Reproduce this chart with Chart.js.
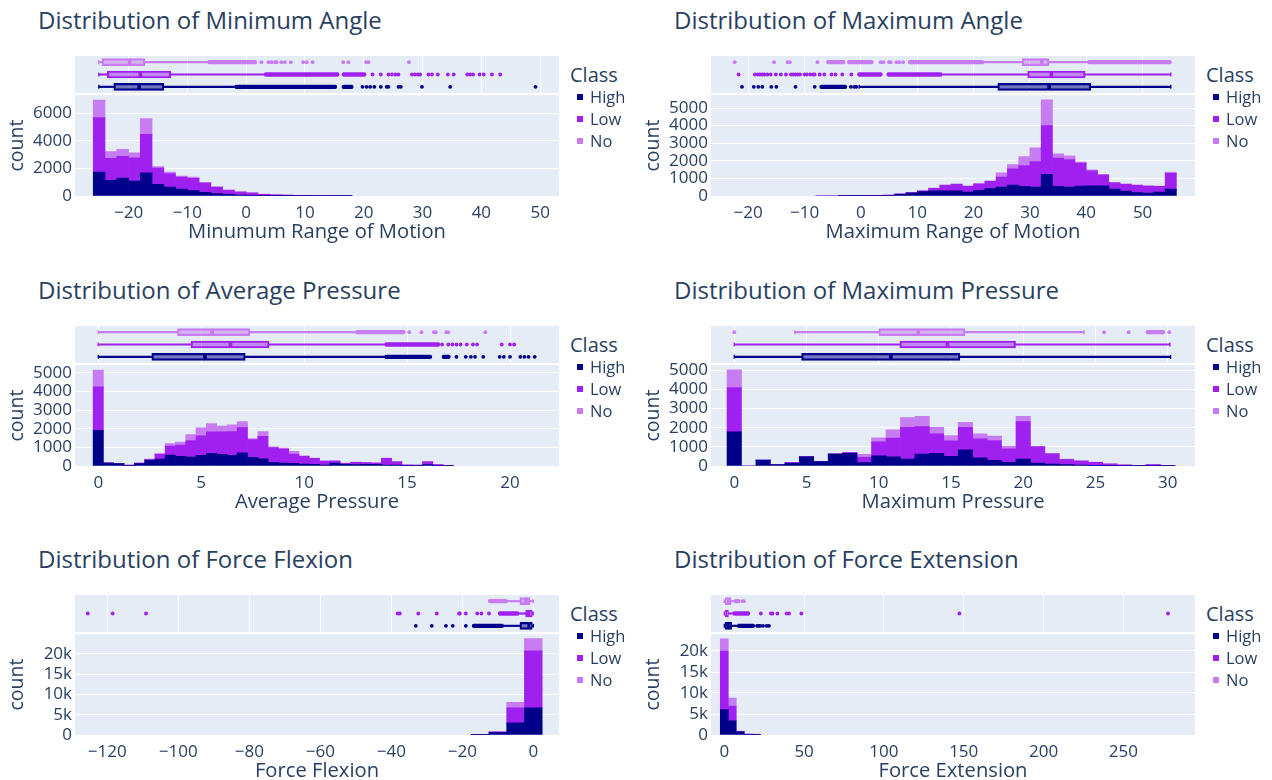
<!DOCTYPE html>
<html>
<head>
<meta charset="utf-8">
<script src="https://cdn.jsdelivr.net/npm/chart.js@4.4.1/dist/chart.umd.min.js"></script>
<style>
  html, body { margin: 0; padding: 0; background: #fff; }
  body { width: 1272px; height: 780px; position: relative; overflow: hidden;
         font-family: "Open Sans", verdana, arial, sans-serif; color: #2a3f5f; }
  canvas { position: absolute; }
  .txt { position: absolute; white-space: nowrap; color: #2a3f5f; }
  .sw { position: absolute; width: 6px; height: 6px; }
</style>
</head>
<body>
<script>
// ---------------- data ----------------
const CLASSES = ['High', 'Low', 'No'];

// Minimum angle: stacked counts per 2-degree bin (bin centres)
const minAngleBins = [-25, -23, -21, -19, -17, -15, -13, -11, -9, -7, -5, -3, -1, 1, 3, 5, 7, 9, 11, 13, 15, 17];
const minAngleHigh = [1725, 1125, 1293, 1078, 1677, 838, 647, 503, 383, 263, 168, 120, 72, 48, 24, 15, 10, 6, 4, 3, 2, 3];
const minAngleLow  = [3952, 1605, 1581, 1676, 2778, 1174, 982, 862, 887, 671, 479, 287, 215, 167, 96, 65, 50, 34, 21, 12, 4, 3];
const minAngleNo   = [1269, 480, 503, 360, 1150, 120, 96, 72, 95, 48, 23, 48, 24, 25, 24, 16, 12, 8, 5, 5, 14, 8];
// box stats: [lower whisker, q1, median, q3, upper whisker]
const minAngleBoxes = { High: [-25.05, -22.5, -18.2, -14.0, -1.8], Low: [-25.05, -23.6, -18.0, -12.8, 3.2], No: [-25.05, -24.5, -19.8, -17.2, -6.4] };
const minAngleRuns = { High: [[-1.8, 15.4], [16.3, 18.2]], Low: [[3.2, 15.8], [16.3, 20.4]], No: [[-6.4, 1.8]] };
const minAngleOutliers = {
  High: [19.8, 20.5, 21.1, 21.8, 22.9, 23.9, 24.2, 25.9, 26.3, 29.9, 34.7, 49.2],
  Low: [21.5, 22.9, 24.2, 24.8, 25.4, 25.9, 28.2, 28.7, 29.2, 29.6, 31.0, 31.6, 32.6, 34.3, 35.3, 37.6, 38.1, 38.6, 39.7, 40.4, 41.8, 43.2],
  No: [2.6, 3.8, 4.3, 4.9, 5.2, 6.0, 6.6, 7.6, 9.7, 10.3, 11.3, 16.5, 17.4, 20.4, 20.8, 27.7]
};
const minAngleXTicks = [-20, -10, 0, 10, 20, 30, 40, 50];
const minAngleYTicks = [0, 2000, 4000, 6000];

// Maximum angle
const maxAngleBins = [-7, -5, -3, -1, 1, 3, 5, 7, 9, 11, 13, 15, 17, 19, 21, 23, 25, 27, 29, 31, 33, 35, 37, 39, 41, 43, 45, 47, 49, 51, 53, 55];
const maxAngleHigh = [0, 0, 5, 15, 10, 20, 40, 95, 170, 245, 300, 300, 300, 226, 320, 415, 509, 623, 547, 509, 1226, 547, 509, 566, 585, 585, 396, 283, 189, 170, 226, 396];
const maxAngleLow  = [0, 0, 5, 10, 10, 15, 12, 30, 33, 50, 134, 304, 360, 321, 360, 415, 566, 924, 1189, 1453, 2774, 1604, 1566, 1302, 849, 604, 359, 377, 415, 396, 321, 887];
const maxAngleNo   = [30, 30, 25, 15, 25, 8, 5, 5, 5, 5, 19, 36, 38, 38, 37, 38, 245, 245, 509, 774, 1472, 245, 208, 57, 56, 37, 19, 38, 36, 19, 19, 75];
const maxAngleBoxes = { High: [-0.3, 24.3, 33.4, 40.8, 55.0], Low: [14.3, 29.6, 33.8, 39.8, 55.0], No: [21.7, 28.6, 32.1, 33.4, 40.4] };
const maxAngleRuns = { High: [[-7.3, -2.5]], Low: [[-0.6, 3.8], [4.6, 14.3]], No: [[-6.1, -2.8], [-2.4, 2.2], [8.4, 21.7], [40.4, 55.1]] };
const maxAngleOutliers = {
  High: [-21.1, -19.0, -18.2, -17.5, -15.9, -15.0, -11.6, -8.2, -1.8, -1.2, -0.8],
  Low: [-21.7, -18.8, -18.3, -17.9, -17.5, -17.1, -16.6, -16.0, -15.1, -14.2, -13.3, -12.4, -12.0, -11.6, -11.2, -10.8, -10.0, -9.6, -9.0, -8.5, -8.2, -7.3, -6.5, -5.2, -4.5, -3.3, -1.7],
  No: [-22.4, -15.4, -13.0, -12.6, -7.7, 3.5, 4.0, 5.0, 5.3, 6.3, 6.8, 7.5]
};
const maxAngleXTicks = [-20, -10, 0, 10, 20, 30, 40, 50];
const maxAngleYTicks = [0, 1000, 2000, 3000, 4000, 5000];

// Average pressure (0.5-wide bins)
const avgPressureBins = [0, 0.5, 1, 1.5, 2, 2.5, 3, 3.5, 4, 4.5, 5, 5.5, 6, 6.5, 7, 7.5, 8, 8.5, 9, 9.5, 10, 10.5, 11, 11.5, 12, 12.5, 13, 13.5, 14, 14.5, 15, 15.5, 16, 16.5, 17];
const avgPressureHigh = [1915, 150, 124, 35, 124, 301, 372, 585, 514, 479, 567, 674, 621, 567, 709, 461, 390, 195, 160, 142, 106, 89, 53, 160, 89, 71, 89, 89, 53, 53, 35, 35, 71, 18, 10];
const avgPressureLow  = [2323, 20, 12, 12, 28, 54, 266, 479, 603, 886, 1046, 1152, 1205, 1277, 1348, 957, 1206, 798, 744, 496, 408, 319, 195, 106, 53, 124, 88, 71, 355, 177, 18, 10, 159, 62, 10];
const avgPressureNo   = [904, 10, 6, 6, 8, 17, 18, 142, 160, 319, 426, 444, 319, 355, 319, 54, 248, 35, 53, 142, 36, 18, 36, 18, 18, 18, 18, 17, 18, 18, 18, 8, 18, 9, 15];
const avgPressureBoxes = { High: [0, 2.6, 5.18, 7.14, 13.95], Low: [0, 4.5, 6.42, 8.3, 13.95], No: [0, 3.85, 5.53, 7.36, 12.54] };
const avgPressureRuns = { High: [[13.95, 16.2], [16.7, 17.1]], Low: [[13.95, 16.6]], No: [[12.54, 14.9]] };
const avgPressureOutliers = {
  High: [17.4, 17.85, 18.1, 18.3, 18.7, 19.5, 19.7, 20.0, 20.5, 20.7, 20.9, 21.2],
  Low: [16.7, 17.0, 17.2, 17.4, 17.6, 17.9, 18.2, 18.4, 19.6, 20.0, 20.2],
  No: [15.1, 15.7, 16.3, 16.4, 16.9, 17.0, 18.8]
};
const avgPressureXTicks = [0, 5, 10, 15, 20];
const avgPressureYTicks = [0, 1000, 2000, 3000, 4000, 5000];

// Maximum pressure (unit bins)
const maxPressureBins = [0, 1, 2, 3, 4, 5, 6, 7, 8, 9, 10, 11, 12, 13, 14, 15, 16, 17, 18, 19, 20, 21, 22, 23, 24, 25, 26, 27, 28, 29, 30];
const maxPressureHigh = [1782, 0, 311, 69, 156, 484, 225, 623, 657, 173, 536, 484, 363, 623, 657, 502, 848, 433, 294, 190, 363, 156, 104, 69, 52, 35, 17, 17, 5, 10, 5];
const maxPressureLow  = [2318, 0, 0, 0, 17, 18, 17, 8, 40, 277, 727, 969, 1661, 1436, 1021, 813, 1176, 986, 1038, 710, 1955, 847, 536, 260, 208, 155, 87, 35, 20, 59, 12];
const maxPressureNo   = [917, 0, 0, 0, 0, 0, 0, 0, 12, 156, 207, 433, 502, 536, 346, 277, 260, 259, 225, 121, 277, 18, 17, 34, 17, 18, 17, 17, 10, 18, 18];
const maxPressureBoxes = { High: [0, 4.66, 10.84, 15.62, 30.2], Low: [0, 11.46, 14.76, 19.47, 30.15], No: [4.2, 10.0, 12.73, 15.96, 24.2] };
const maxPressureRuns = { High: [], Low: [], No: [[28.5, 29.8]] };
const maxPressureOutliers = { High: [], Low: [], No: [0, 25.6, 27.3, 30.1] };
const maxPressureXTicks = [0, 5, 10, 15, 20, 25, 30];
const maxPressureYTicks = [0, 1000, 2000, 3000, 4000, 5000];

// Force flexion (5-wide bins)
const forceFlexionBins = [-15, -10, -5, 0];
const forceFlexionHigh = [50, 570, 3010, 6670];
const forceFlexionLow  = [50, 160, 3660, 14060];
const forceFlexionNo   = [60, 160, 1380, 3010];
const forceFlexionBoxes = { High: [-8.6, -3.76, -1.13, -0.28, 0], Low: [-4.2, -2.16, -1.13, -0.28, 0], No: [-7.5, -3.76, -2.07, -0.94, 0] };
const forceFlexionRuns = { High: [[-17.2, -8.6]], Low: [[-9.9, -4.2]], No: [[-12.7, -7.5]] };
const forceFlexionOutliers = {
  High: [-33.1, -28.6, -24.6, -22.7, -19.0],
  Low: [-125.5, -118.5, -109.1, -38.2, -37.6, -32.4, -27.2, -20.9, -20.7, -19.0, -15.8, -14.6, -12.5],
  No: []
};
const forceFlexionXTicks = [-120, -100, -80, -60, -40, -20, 0];
const forceFlexionYTicks = [0, 5000, 10000, 15000, 20000];

// Force extension (5-wide bins)
const forceExtensionBins = [0, 5, 10, 15, 20];
const forceExtensionHigh = [6040, 3370, 780, 157, 50];
const forceExtensionLow  = [13960, 3530, 80, 40, 60];
const forceExtensionNo   = [2900, 1880, 80, 38, 125];
const forceExtensionBoxes = { High: [0, 0.4, 2.5, 4.6, 8.75], Low: [0, 0.4, 1.2, 2.6, 5.8], No: [0, 0.45, 2.1, 4.2, 6.7] };
const forceExtensionRuns = { High: [[8.75, 19.0]], Low: [[5.8, 16.0]], No: [[6.7, 9.8]] };
const forceExtensionOutliers = {
  High: [20.5, 21.5, 22.5, 24.2, 26.5, 28.0],
  Low: [22.9, 29.2, 30.2, 33.3, 39.0, 40.6, 48.3, 147.3, 278.0],
  No: [11.3, 12.3]
};
const forceExtensionXTicks = [0, 50, 100, 150, 200, 250];
const forceExtensionYTicks = [0, 5000, 10000, 15000, 20000];

// ---------------- styling / layout ----------------
const COLORS = { High: '#00008b', Low: '#a020f0', No: '#c77cf2' };
const FILLS = { High: 'rgba(0,0,139,0.5)', Low: 'rgba(160,32,240,0.5)', No: 'rgba(199,124,242,0.5)' };
const TEXT = '#2a3f5f';
const PLOT_BG = '#e5ecf6';
const FONT = '"Open Sans", verdana, arial, sans-serif';

const COL_LEFT = [75, 711];
const PLOT_W = 484;
const ROW_TOP = [56, 326, 595];
const MARG_H = 37;
const HIST_OFF = 38;
const HIST_H = 102;
const AXIS_W = 75;
const PAD_TOP = 12;
const PAD_RIGHT = 8;
const XAXIS_H = 48;

const PANELS = [
  { col: 0, row: 0, title: 'Distribution of Minimum Angle', xTitle: 'Minumum Range of Motion',
    bins: minAngleBins, counts: { High: minAngleHigh, Low: minAngleLow, No: minAngleNo },
    boxes: minAngleBoxes, runs: minAngleRuns, outliers: minAngleOutliers,
    xTicks: minAngleXTicks, yTicks: minAngleYTicks,
    xMin: -29.1, xMax: 53.2, yMax: 7290, kFmt: false },
  { col: 1, row: 0, title: 'Distribution of Maximum Angle', xTitle: 'Maximum Range of Motion',
    bins: maxAngleBins, counts: { High: maxAngleHigh, Low: maxAngleLow, No: maxAngleNo },
    boxes: maxAngleBoxes, runs: maxAngleRuns, outliers: maxAngleOutliers,
    xTicks: maxAngleXTicks, yTicks: maxAngleYTicks,
    xMin: -26.6, xMax: 59.3, yMax: 5730, kFmt: false },
  { col: 0, row: 1, title: 'Distribution of Average Pressure', xTitle: 'Average Pressure',
    bins: avgPressureBins, counts: { High: avgPressureHigh, Low: avgPressureLow, No: avgPressureNo },
    boxes: avgPressureBoxes, runs: avgPressureRuns, outliers: avgPressureOutliers,
    xTicks: avgPressureXTicks, yTicks: avgPressureYTicks,
    xMin: -1.13, xMax: 22.38, yMax: 5400, kFmt: false },
  { col: 1, row: 1, title: 'Distribution of Maximum Pressure', xTitle: 'Maximum Pressure',
    bins: maxPressureBins, counts: { High: maxPressureHigh, Low: maxPressureLow, No: maxPressureNo },
    boxes: maxPressureBoxes, runs: maxPressureRuns, outliers: maxPressureOutliers,
    xTicks: maxPressureXTicks, yTicks: maxPressureYTicks,
    xMin: -1.61, xMax: 31.89, yMax: 5265, kFmt: false },
  { col: 0, row: 2, title: 'Distribution of Force Flexion', xTitle: 'Force Flexion',
    bins: forceFlexionBins, counts: { High: forceFlexionHigh, Low: forceFlexionLow, No: forceFlexionNo },
    boxes: forceFlexionBoxes, runs: forceFlexionRuns, outliers: forceFlexionOutliers,
    xTicks: forceFlexionXTicks, yTicks: forceFlexionYTicks,
    xMin: -129.1, xMax: 7.24, yMax: 24800, kFmt: true },
  { col: 1, row: 2, title: 'Distribution of Force Extension', xTitle: 'Force Extension',
    bins: forceExtensionBins, counts: { High: forceExtensionHigh, Low: forceExtensionLow, No: forceExtensionNo },
    boxes: forceExtensionBoxes, runs: forceExtensionRuns, outliers: forceExtensionOutliers,
    xTicks: forceExtensionXTicks, yTicks: forceExtensionYTicks,
    xMin: -8.33, xMax: 294.9, yMax: 24000, kFmt: true }
];

// paints the plotting area background
const plotBg = {
  id: 'plotBg',
  beforeDraw(chart) {
    const { ctx, chartArea: a } = chart;
    ctx.save();
    ctx.fillStyle = PLOT_BG;
    ctx.fillRect(a.left, a.top, a.right - a.left, a.bottom - a.top);
    ctx.restore();
  }
};

const minusFmt = v => (v < 0 ? '\u2212' + Math.abs(v) : String(v));
const kFmt = v => (v === 0 ? '0' : (v / 1000) + 'k');
const fixedTicks = values => scale => { scale.ticks = values.map(v => ({ value: v })); };

function makeCanvas(left, top, w, h) {
  const c = document.createElement('canvas');
  c.width = w; c.height = h;
  c.style.left = left + 'px'; c.style.top = top + 'px';
  c.style.width = w + 'px'; c.style.height = h + 'px';
  document.body.appendChild(c);
  return c;
}

function addText(text, left, top, size, lineH) {
  const d = document.createElement('div');
  d.className = 'txt';
  d.textContent = text;
  d.style.left = left + 'px';
  d.style.top = top + 'px';
  d.style.fontSize = size + 'px';
  d.style.lineHeight = lineH + 'px';
  document.body.appendChild(d);
  return d;
}

function histogram(p, plotLeft, histTop) {
  const canvas = makeCanvas(plotLeft - AXIS_W, histTop - PAD_TOP, AXIS_W + PLOT_W + PAD_RIGHT, PAD_TOP + HIST_H + XAXIS_H);
  return new Chart(canvas, {
    type: 'bar',
    data: {
      datasets: CLASSES.map(cls => ({
        label: cls,
        data: p.bins.map((x, i) => ({ x: x, y: p.counts[cls][i] })),
        backgroundColor: COLORS[cls],
        borderWidth: 0,
        barPercentage: 1,
        categoryPercentage: 1
      }))
    },
    options: {
      responsive: false, animation: false, events: [],
      layout: { autoPadding: false, padding: { top: PAD_TOP, right: PAD_RIGHT, left: 0, bottom: 0 } },
      plugins: { legend: { display: false }, tooltip: { enabled: false } },
      scales: {
        x: {
          type: 'linear', stacked: true, min: p.xMin, max: p.xMax, offset: false,
          grid: { display: false, offset: false }, border: { display: false },
          afterBuildTicks: fixedTicks(p.xTicks),
          ticks: { padding: -1, maxRotation: 0, autoSkip: false,
                   color: TEXT, font: { size: 17 }, callback: minusFmt },
          title: { display: true, text: p.xTitle, color: TEXT, font: { size: 20.2 }, padding: 0 },
          afterFit: s => { s.height = XAXIS_H; }
        },
        y: {
          stacked: true, min: 0, max: p.yMax,
          grid: { color: '#ffffff', lineWidth: 1, drawTicks: false }, border: { display: false },
          afterBuildTicks: fixedTicks(p.yTicks),
          ticks: { padding: 3, color: TEXT, font: { size: 17 }, autoSkip: false,
                   callback: p.kFmt ? kFmt : (v => String(v)) },
          title: { display: true, text: 'count', color: TEXT, font: { size: 19.5 }, padding: { top: 6, bottom: 0 } },
          afterFit: s => { s.width = AXIS_W; }
        }
      }
    },
    plugins: [plotBg]
  });
}

function marginal(p, plotLeft, margTop) {
  const canvas = makeCanvas(plotLeft, margTop, PLOT_W, MARG_H);
  const rows = ['No', 'Low', 'High'];
  const segment = (from, to, thick, fill, border) => ({
    type: 'bar', grouped: false, indexAxis: 'y',
    data: rows.map(c => [p.boxes[c][from], p.boxes[c][to]]),
    backgroundColor: rows.map(c => fill[c]),
    borderColor: border ? rows.map(c => COLORS[c]) : 'transparent',
    borderWidth: border ? 1.5 : 0,
    borderSkipped: false,
    barThickness: thick
  });
  const datasets = [
    segment(0, 1, 1.5, COLORS, false),
    segment(3, 4, 1.5, COLORS, false),
    segment(1, 2, 7, FILLS, true),
    segment(2, 3, 7, FILLS, true)
  ];
  CLASSES.forEach(cls => {
    // whisker end caps
    datasets.push({
      type: 'scatter', indexAxis: 'x',
      data: [{ x: p.boxes[cls][0], y: cls }, { x: p.boxes[cls][4], y: cls }],
      pointStyle: 'line', rotation: 90, pointRadius: 2,
      borderColor: COLORS[cls], pointBorderWidth: 1.3, backgroundColor: COLORS[cls]
    });
    // densely packed outliers
    datasets.push({
      type: 'bar', grouped: false, indexAxis: 'y',
      data: p.runs[cls].map(r => ({ y: cls, x: r })),
      backgroundColor: COLORS[cls], borderWidth: 0, borderSkipped: false,
      borderRadius: 2, barThickness: 3.6
    });
    // individual outliers
    datasets.push({
      type: 'scatter', indexAxis: 'x',
      data: p.outliers[cls].map(x => ({ x: x, y: cls })),
      pointRadius: 1.9, pointBorderWidth: 0, backgroundColor: COLORS[cls]
    });
  });
  return new Chart(canvas, {
    type: 'bar',
    data: { labels: rows, datasets: datasets },
    options: {
      responsive: false, animation: false, events: [], indexAxis: 'y',
      layout: { autoPadding: false, padding: 0 },
      plugins: { legend: { display: false }, tooltip: { enabled: false } },
      scales: {
        x: {
          type: 'linear', min: p.xMin, max: p.xMax,
          grid: { color: '#ffffff', lineWidth: 1, drawTicks: false }, border: { display: false },
          afterBuildTicks: fixedTicks(p.xTicks),
          ticks: { display: false }
        },
        y: { type: 'category', labels: rows, offset: true, display: false }
      }
    },
    plugins: [plotBg]
  });
}

function legend(plotLeft, margTop) {
  const x0 = plotLeft + PLOT_W;
  addText('Class', x0 + 11, margTop + 6.5, 20, 24);
  CLASSES.forEach((cls, i) => {
    const cy = margTop + 41 + i * 22;
    const sw = document.createElement('div');
    sw.className = 'sw';
    sw.style.left = (x0 + 18) + 'px';
    sw.style.top = (cy - 3) + 'px';
    sw.style.background = COLORS[cls];
    document.body.appendChild(sw);
    addText(cls, x0 + 31, cy - 10.5, 16.5, 20);
  });
}

function build() {
  Chart.defaults.font.family = FONT;
  Chart.defaults.color = TEXT;
  PANELS.forEach(p => {
    const plotLeft = COL_LEFT[p.col];
    const margTop = ROW_TOP[p.row];
    addText(p.title, plotLeft - 37, margTop - 50.5, 24, 28);
    marginal(p, plotLeft, margTop);
    histogram(p, plotLeft, margTop + HIST_OFF);
    legend(plotLeft, margTop);
  });
}

const fontsReady = document.fonts && document.fonts.load
  ? Promise.all([document.fonts.load('17px "Open Sans"'), document.fonts.load('24px "Open Sans"')]).catch(() => null)
  : Promise.resolve();
fontsReady.then(build);
</script>
</body>
</html>
